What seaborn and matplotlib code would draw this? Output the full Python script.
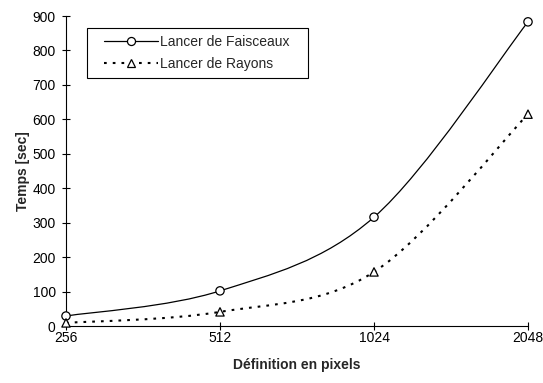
import matplotlib
matplotlib.use("Agg")
import matplotlib.pyplot as plt
from matplotlib.path import Path
from matplotlib.patches import PathPatch
from matplotlib.lines import Line2D
from matplotlib.legend_handler import HandlerLine2D
import seaborn as sns
import pandas as pd
import numpy as np

resolutions = ["256", "512", "1024", "2048"]
faisceaux = [29, 102, 316, 883]
rayons = [9, 41, 157, 615]
y_ticks = [0, 100, 200, 300, 400, 500, 600, 700, 800, 900]

sns.set_theme(style="ticks")
plt.rcParams["font.family"] = ["Liberation Sans", "DejaVu Sans"]

df = pd.DataFrame({
    "pos": list(range(len(resolutions))) * 2,
    "temps": faisceaux + rayons,
    "serie": ["Lancer de Faisceaux"] * 4 + ["Lancer de Rayons"] * 4,
})

fig = plt.figure(figsize=(5.43, 3.83), dpi=100)
ax = fig.add_axes([66 / 543, 1 - 326 / 383, (528 - 66) / 543, (326 - 16) / 383])


def smooth_path(xs, ys):
    pts = np.column_stack([xs, ys]).astype(float)
    n = len(pts)
    verts = [pts[0]]
    codes = [Path.MOVETO]
    for i in range(n - 1):
        p_prev = pts[i - 1] if i > 0 else pts[i]
        p_next2 = pts[i + 2] if i + 2 < n else pts[i + 1]
        c1 = pts[i] + (pts[i + 1] - p_prev) / 6
        c2 = pts[i + 1] - (p_next2 - pts[i]) / 6
        verts += [c1, c2, pts[i + 1]]
        codes += [Path.CURVE4] * 3
    return Path(verts, codes)


DOT = (0, (1.3, 2.9))
styles = {
    "Lancer de Faisceaux": dict(ls="-", lw=0.9),
    "Lancer de Rayons": dict(ls=DOT, lw=1.5),
}

for name, sub in df.groupby("serie", sort=False):
    st = styles[name]
    patch = PathPatch(smooth_path(sub["pos"].values, sub["temps"].values),
                      facecolor="none", edgecolor="black", lw=st["lw"],
                      linestyle=st["ls"], zorder=2, clip_on=False)
    ax.add_patch(patch)

sns.scatterplot(data=df, x="pos", y="temps", style="serie",
                markers={"Lancer de Faisceaux": "o", "Lancer de Rayons": "^"},
                color="white", edgecolor="black", linewidth=0.9, s=36,
                ax=ax, legend=False, zorder=3, clip_on=False)

ax.set_xlim(0, 3)
ax.set_ylim(0, 900)
ax.set_xticks(range(len(resolutions)))
ax.set_xticklabels(resolutions)
ax.set_yticks(y_ticks)
ax.tick_params(axis="both", direction="inout", length=5.8, width=0.8, color="black",
               labelsize=10, labelcolor="black")
ax.tick_params(axis="x", pad=1.0)
ax.tick_params(axis="y", pad=4.5)
for s in ["top", "right"]:
    ax.spines[s].set_visible(False)
for s in ["left", "bottom"]:
    ax.spines[s].set_color("black")
    ax.spines[s].set_linewidth(0.8)

ax.set_xlabel("Définition en pixels", fontsize=10, fontweight="bold", labelpad=9)
ax.set_ylabel("Temps [sec]", fontsize=10, fontweight="bold", labelpad=1.5)

handles = [
    Line2D([], [], color="black", lw=0.9, ls="-", marker="o", markersize=5.8,
           markerfacecolor="white", markeredgecolor="black", markeredgewidth=0.9),
    Line2D([], [], color="black", lw=1.5, ls=DOT, marker="^", markersize=5.8,
           markerfacecolor="white", markeredgecolor="black", markeredgewidth=0.9),
]
hm = {h: HandlerLine2D(xpad=0.75) for h in handles}
leg = ax.legend(handles, ["Lancer de Faisceaux   ", "Lancer de Rayons   "],
                handler_map=hm,
                loc="upper left", bbox_to_anchor=(21 / 462, 1 - 12 / 310),
                fontsize=10, frameon=True, fancybox=False, edgecolor="black",
                framealpha=1, handlelength=4.6, borderpad=0.5, labelspacing=0.6,
                handletextpad=0.15, borderaxespad=0)
leg.get_frame().set_linewidth(0.8)

fig.savefig("out.png", dpi=100)
